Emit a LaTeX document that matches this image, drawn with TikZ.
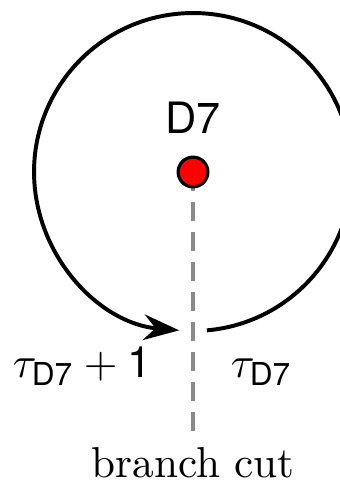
\documentclass[tikz,border=0pt,11pt]{standalone}
\usepackage{amsmath}
\usepackage{fontspec}
\setsansfont{TeX Gyre Heros}
\usepackage{tikz}
\usetikzlibrary{arrows.meta}
\usetikzlibrary{positioning}
\definecolor{cutgray}{HTML}{8a8a8a}
\definecolor{branchred}{HTML}{ff0000}
\tikzset{
    brane/.style={circle, fill=branchred, draw=black, line width=0.8pt, minimum size=0.265cm, inner sep=0pt},
    monodromy/.style={line width=1pt, -{Stealth[length=9pt, width=6.5pt, inset=3pt]}},
    cut/.style={cutgray, line width=1.2pt, dash pattern=on 4.8pt off 2.8pt},
}
\begin{document}
\begin{tikzpicture}
        \useasboundingbox (-1.718,-2.786) rectangle (1.308,1.531);
        \coordinate (center) at (0,0);
        \def\radius{1.415cm}

        \coordinate (cutend) at (0,-2.305);
        \draw[cut] (center) -- (cutend); % branch cut going down

        \draw[monodromy] (center) ++(275:\radius) arc (275:625:\radius);

        \node[brane] (dot) at (center) {};
        \node[font=\sffamily] (name) at (0,0.485) {D7};

        \node[anchor=base] (left) at (-0.988,-1.825) {$\tau_{\textsf{D7}}+\textsf{1}$};
        \node[anchor=base] (right) at (0.61,-1.825) {$\tau_{\textsf{D7}}$};
        \node[anchor=base] (cutlabel) at (0,-2.72) {branch cut};
        \end{tikzpicture}
\end{document}
